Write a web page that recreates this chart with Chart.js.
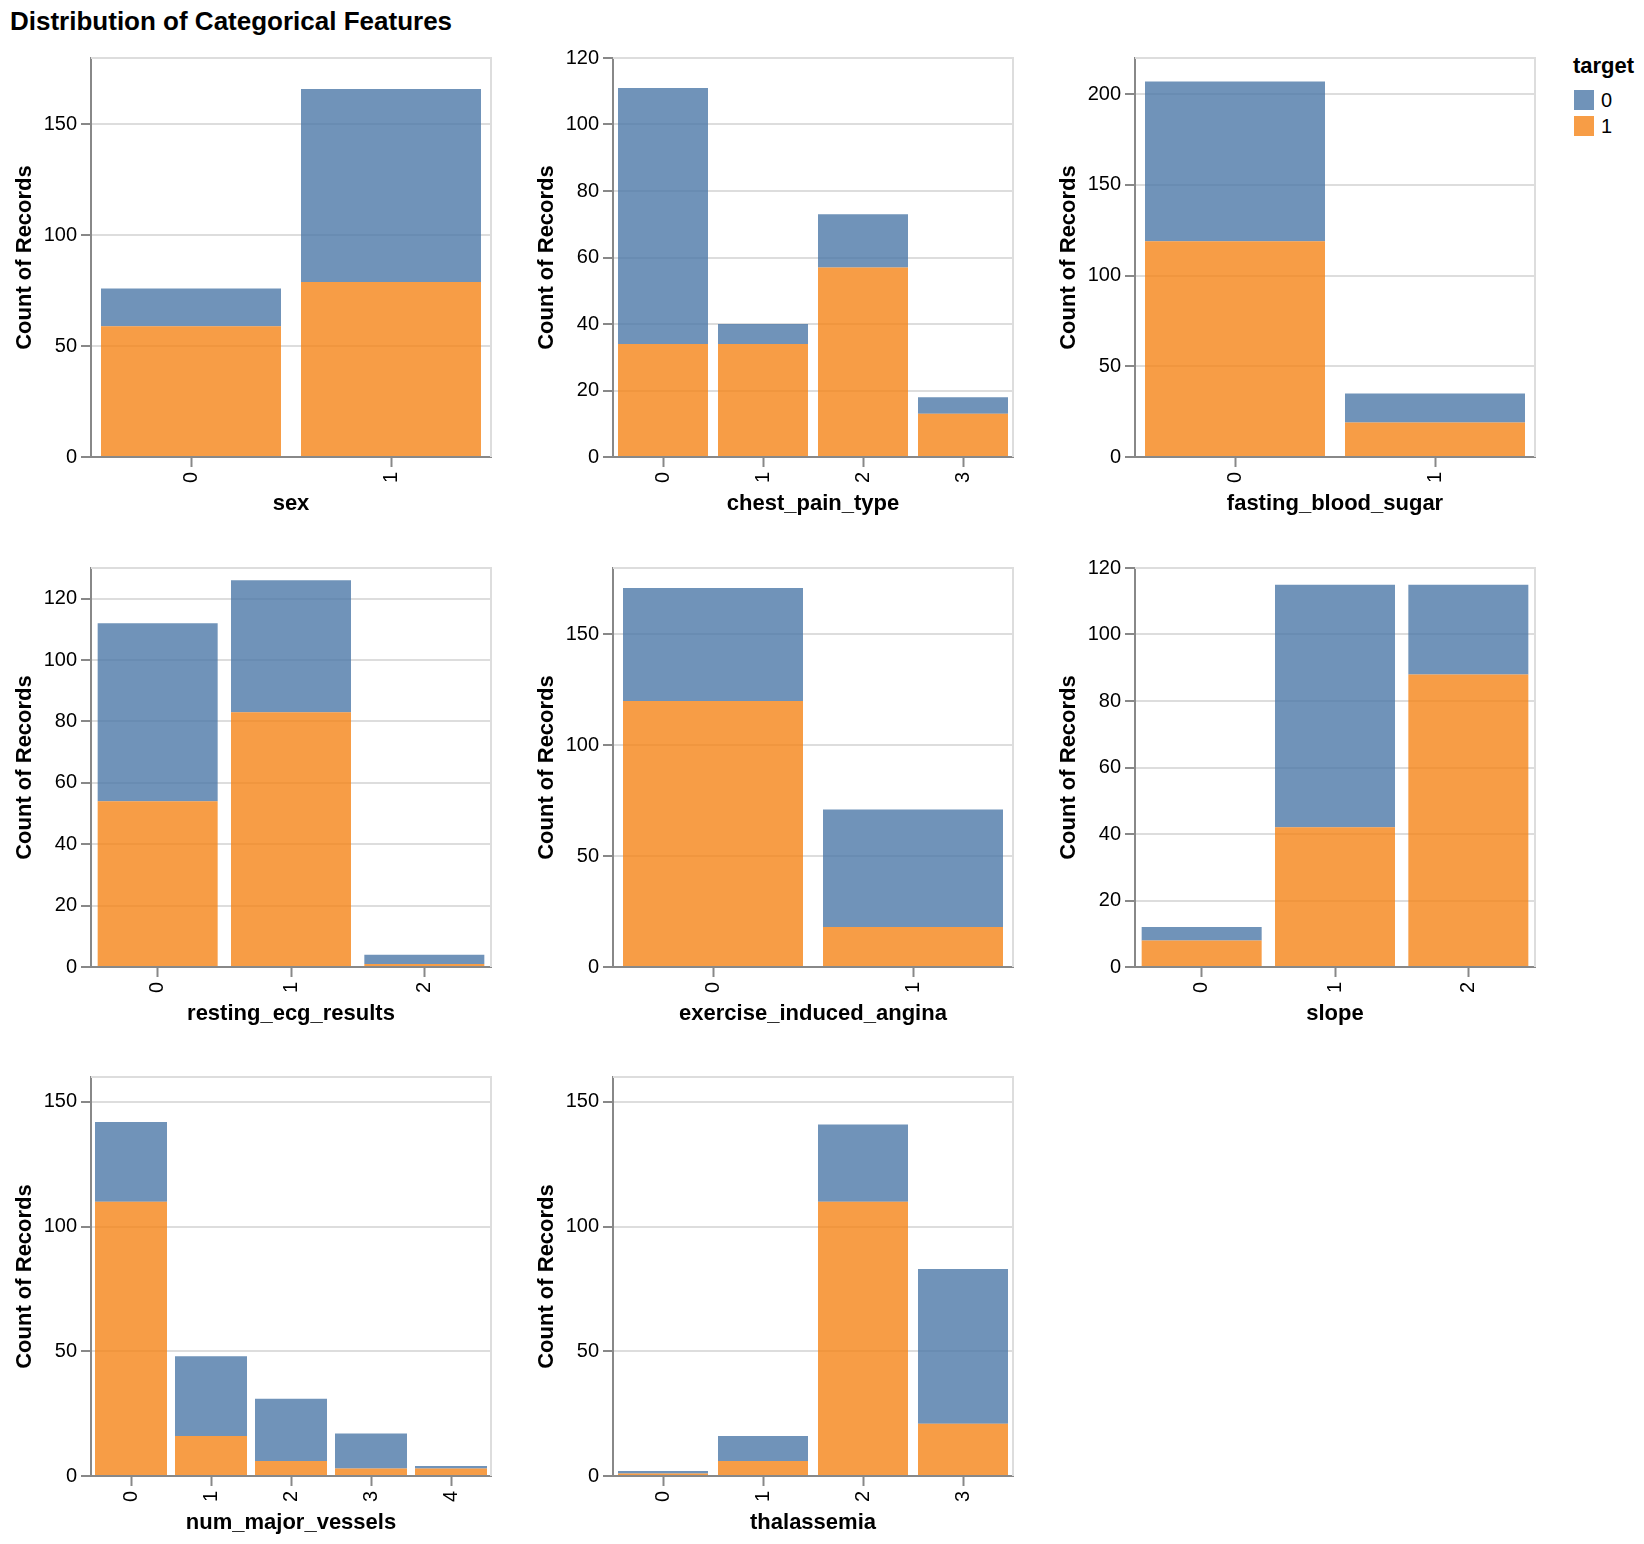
<!DOCTYPE html>
<html>
<head>
<meta charset="utf-8">
<script src="https://cdn.jsdelivr.net/npm/chart.js@4.4.1/dist/chart.umd.min.js"></script>
<style>
  html, body { margin: 0; padding: 0; background: #fff; width: 1644px; height: 1544px; overflow: hidden; position: relative; font-family: "Liberation Sans", Arial, sans-serif; }
  canvas { position: absolute; }
  #title { position: absolute; left: 10px; top: 7.5px; font-size: 26px; line-height: 26px; font-weight: bold; color: #000; white-space: nowrap; }
  #legendTitle { position: absolute; left: 1573px; top: 55px; font-size: 22px; line-height: 22px; font-weight: bold; color: #000; }
  .lgSwatch { position: absolute; width: 20px; height: 20px; }
  .lgLabel { position: absolute; font-size: 20px; line-height: 20px; color: #000; }
</style>
</head>
<body>
<div id="title">Distribution of Categorical Features</div>
<div id="legendTitle">target</div>
<script>
// ---------------- DATA ----------------
const seriesNames = ['0', '1'];           // target values (legend order)

const sexCats = ['0', '1'];
const sexT0 = [17, 87];
const sexT1 = [59, 79];

const chestPainCats = ['0', '1', '2', '3'];
const chestPainT0 = [77, 6, 16, 5];
const chestPainT1 = [34, 34, 57, 13];

const fbsCats = ['0', '1'];
const fbsT0 = [88, 16];
const fbsT1 = [119, 19];

const ecgCats = ['0', '1', '2'];
const ecgT0 = [58, 43, 3];
const ecgT1 = [54, 83, 1];

const anginaCats = ['0', '1'];
const anginaT0 = [51, 53];
const anginaT1 = [120, 18];

const slopeCats = ['0', '1', '2'];
const slopeT0 = [4, 73, 27];
const slopeT1 = [8, 42, 88];

const vesselsCats = ['0', '1', '2', '3', '4'];
const vesselsT0 = [32, 32, 25, 14, 1];
const vesselsT1 = [110, 16, 6, 3, 3];

const thalCats = ['0', '1', '2', '3'];
const thalT0 = [1, 10, 31, 62];
const thalT1 = [1, 6, 110, 21];

const yMaxes = [180, 120, 220, 130, 180, 120, 160, 160];
const ySteps = [50, 20, 50, 20, 50, 20, 50, 50];
// ---------------------------------------

const panels = [
  { name: 'sex', cats: sexCats, t0: sexT0, t1: sexT1 },
  { name: 'chest_pain_type', cats: chestPainCats, t0: chestPainT0, t1: chestPainT1 },
  { name: 'fasting_blood_sugar', cats: fbsCats, t0: fbsT0, t1: fbsT1 },
  { name: 'resting_ecg_results', cats: ecgCats, t0: ecgT0, t1: ecgT1 },
  { name: 'exercise_induced_angina', cats: anginaCats, t0: anginaT0, t1: anginaT1 },
  { name: 'slope', cats: slopeCats, t0: slopeT0, t1: slopeT1 },
  { name: 'num_major_vessels', cats: vesselsCats, t0: vesselsT0, t1: vesselsT1 },
  { name: 'thalassemia', cats: thalCats, t0: thalT0, t1: thalT1 }
];

const COLOR0 = 'rgba(76,120,168,0.8)';
const COLOR1 = 'rgba(245,133,24,0.8)';
const seriesColors = [COLOR0, COLOR1];

const FONT = '"Liberation Sans", Arial, sans-serif';
Chart.defaults.font.family = FONT;
Chart.defaults.color = '#000';

const colX = [91, 613, 1135];
const rowY = [57, 567, 1076];
const Y_AXIS_W = 91, X_AXIS_H = 75, PAD_TOP = 15, PAD_RIGHT = 12;
const PLOT = 400;

const framePlugin = {
  id: 'frame',
  beforeDatasetsDraw(chart) {
    const a = chart.chartArea, ctx = chart.ctx;
    ctx.save();
    ctx.strokeStyle = '#ddd';
    ctx.lineWidth = 2;
    ctx.beginPath();
    ctx.moveTo(a.left, a.top);
    ctx.lineTo(a.right, a.top);
    ctx.lineTo(a.right, a.bottom);
    ctx.stroke();
    ctx.restore();
  }
};

panels.forEach((p, i) => {
  const col = i % 3, row = Math.floor(i / 3);
  const cv = document.createElement('canvas');
  const W = Y_AXIS_W + PLOT + PAD_RIGHT, H = PAD_TOP + PLOT + X_AXIS_H;
  cv.width = W; cv.height = H;
  cv.style.width = W + 'px'; cv.style.height = H + 'px';
  cv.style.left = (colX[col] - Y_AXIS_W) + 'px';
  cv.style.top = (rowY[row] - PAD_TOP) + 'px';
  document.body.appendChild(cv);

  new Chart(cv.getContext('2d'), {
    type: 'bar',
    data: {
      labels: p.cats,
      datasets: [
        { label: seriesNames[1], data: p.t1, backgroundColor: COLOR1, borderWidth: 0, barPercentage: 0.9, categoryPercentage: 1.0 },
        { label: seriesNames[0], data: p.t0, backgroundColor: COLOR0, borderWidth: 0, barPercentage: 0.9, categoryPercentage: 1.0 }
      ]
    },
    options: {
      responsive: false,
      animation: false,
      devicePixelRatio: 1,
      layout: { padding: { top: PAD_TOP, right: PAD_RIGHT, left: 0, bottom: 0 } },
      plugins: { legend: { display: false }, tooltip: { enabled: false } },
      scales: {
        x: {
          type: 'category',
          stacked: true,
          offset: true,
          afterFit(s) { s.height = X_AXIS_H; },
          grid: { display: true, offset: false, drawOnChartArea: false, drawTicks: true, tickLength: 10, tickColor: '#888', tickWidth: 2 },
          border: { display: true, color: '#888', width: 2 },
          ticks: { minRotation: 90, maxRotation: 90, autoSkip: false, padding: 5, color: '#000', font: { size: 20 } },
          title: { display: true, text: p.name, color: '#000', font: { size: 22, weight: 'bold' }, padding: { top: 0, bottom: 15 } }
        },
        y: {
          type: 'linear',
          stacked: true,
          min: 0,
          max: yMaxes[i],
          afterFit(s) { s.width = Y_AXIS_W; },
          grid: {
            color: ctx => (ctx.tick && ctx.tick.value === 0) ? 'rgba(0,0,0,0)' : '#ddd',
            lineWidth: 2, drawTicks: true, tickLength: 10, tickColor: '#888', tickWidth: 2
          },
          border: { display: true, color: '#888', width: 2 },
          ticks: { stepSize: ySteps[i], includeBounds: false, padding: 4, color: '#000', font: { size: 20 } },
          title: { display: true, text: 'Count of Records', color: '#000', font: { size: 22, weight: 'bold' }, padding: { top: 12, bottom: 0 } }
        }
      }
    },
    plugins: [framePlugin]
  });
});

// Legend (target)
const lgTops = [90, 116];
seriesNames.forEach((nm, k) => {
  const sw = document.createElement('div');
  sw.className = 'lgSwatch';
  sw.style.left = '1574px';
  sw.style.top = lgTops[k] + 'px';
  sw.style.background = seriesColors[k];
  document.body.appendChild(sw);
  const lb = document.createElement('div');
  lb.className = 'lgLabel';
  lb.style.left = '1601px';
  lb.style.top = lgTops[k] + 'px';
  lb.textContent = nm;
  document.body.appendChild(lb);
});
</script>
</body>
</html>
